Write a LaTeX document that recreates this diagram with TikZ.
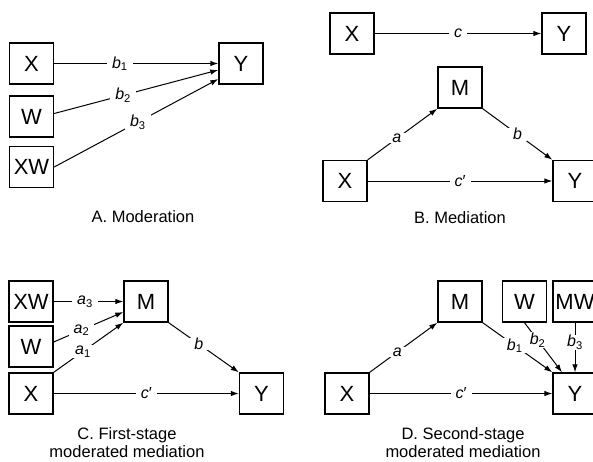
\documentclass[tikz,border=0pt]{standalone}
\usepackage{fontspec}
\setmainfont{Liberation Sans}
\usetikzlibrary{arrows.meta}
\tikzset{
  box/.style={draw, line width=1.4pt, minimum width=44pt, minimum height=41pt, inner sep=0pt, font=\fontsize{22}{24}\selectfont},
  lab/.style={fill=white, inner xsep=5pt, inner ysep=0.5pt, font=\fontsize{16}{18}\selectfont},
  arr/.style={-{Latex[length=8pt,width=5.5pt]}, line width=1pt},
  captxt/.style={align=center, font=\fontsize{16.5}{18}\selectfont}
}
\newcommand{\ital}[2]{\textit{#1}\textsubscript{#2}}
\begin{document}
\begin{tikzpicture}[x=1pt,y=-1pt]
\clip (0,0) rectangle (593,461);
% Panel A
\node[box] (aX) at (31.5,63.5) {X};
\node[box] (aW) at (31.5,116.5) {W};
\node[box] (aXW) at (31.5,167) {XW};
\node[box] (aY) at (241,63.5) {Y};
\draw[arr] (aX.east) -- node[lab, pos=0.4] {\ital{b}{1}} (aY.west);
\draw[arr] ([yshift=3pt]aW.east) -- node[lab, pos=0.42] {\ital{b}{2}} ([yshift=-6.5pt]aY.west);
\draw[arr] (aXW.east) -- node[lab, pos=0.51] {\ital{b}{3}} ([yshift=-15.5pt]aY.west);
\node[captxt] (capA) at (143,217) {A. Moderation};
% Panel B
\node[box] (bX1) at (352,33.5) {X};
\node[box] (bY1) at (564,33.5) {Y};
\draw[arr] (bX1.east) -- node[lab] {\textit{c}} (bY1.west);
\node[box] (bM) at (460,87.5) {M};
\node[box] (bX) at (345,181) {X};
\node[box] (bY) at (575,181) {Y};
\draw[arr] (bX.north east) -- node[lab, pos=0.42] {\textit{a}} (bM.south west);
\draw[arr] (bM.south east) -- node[lab] {\textit{b}} (bY.north west);
\draw[arr] (bX.east) -- node[lab] {\textit{c}\char"2032} (bY.west);
\node[captxt] (capB) at (460,218) {B. Mediation};
% Panel C
\node[box] (cXW) at (31,301.5) {XW};
\node[box] (cW) at (31,346.5) {W};
\node[box] (cX) at (31,393.5) {X};
\node[box] (cM) at (146,301.5) {M};
\node[box] (cY) at (261.5,393.5) {Y};
\draw[arr] (cXW.east) -- node[lab, pos=0.45] {\ital{a}{3}} (cM.west);
\draw[arr] ([yshift=4.5pt]cW.east) -- node[lab, pos=0.4] {\ital{a}{2}} ([yshift=-10.5pt]cM.west);
\draw[arr] (cX.north east) -- node[lab, pos=0.42] {\ital{a}{1}} (cM.south west);
\draw[arr] (cM.south east) -- node[lab, pos=0.43] {\textit{b}} (cY.north west);
\draw[arr] (cX.east) -- node[lab] {\textit{c}\char"2032} (cY.west);
\node[captxt] (capC) at (127,443) {C. First-stage\\moderated mediation};
% Panel D
\node[box] (dM) at (460,301.5) {M};
\node[box] (dW) at (524.5,301.5) {W};
\node[box] (dMW) at (575,301.5) {MW};
\node[box] (dX) at (347,393.5) {X};
\node[box] (dY) at (575,393.5) {Y};
\draw[arr] (dX.north east) -- node[lab, pos=0.41] {\textit{a}} (dM.south west);
\draw[arr] (dM.south east) -- node[lab, pos=0.46] {\ital{b}{1}} (dY.north west);
\draw[arr] (dW.south) -- node[lab, pos=0.35, inner xsep=1.5pt] {\ital{b}{2}} ([xshift=-13pt]dY.north);
\draw[arr] (dMW.south) -- node[lab, pos=0.4, inner xsep=1.5pt] {\ital{b}{3}} (dY.north);
\draw[arr] (dX.east) -- node[lab] {\textit{c}\char"2032} (dY.west);
\node[captxt] (capD) at (463,443) {D. Second-stage\\moderated mediation};
\end{tikzpicture}
\end{document}
